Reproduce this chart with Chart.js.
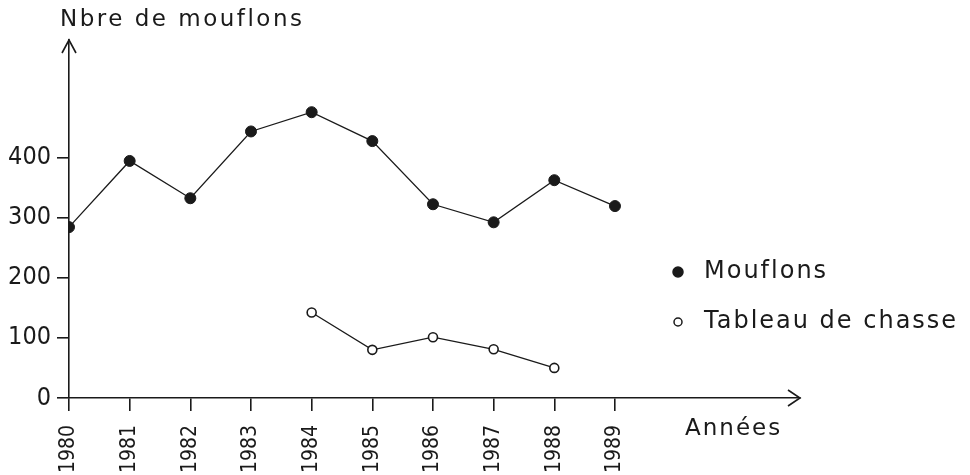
<!DOCTYPE html>
<html>
<head>
<meta charset="utf-8">
<script src="https://cdn.jsdelivr.net/npm/chart.js@4.4.1/dist/chart.umd.min.js"></script>
<style>
  html, body { margin: 0; padding: 0; background: #fff; }
  #wrap { width: 970px; height: 475px; position: relative; }
</style>
</head>
<body>
<div id="wrap"><canvas id="chart"></canvas></div>
<script>
// Values
const years = [1980, 1981, 1982, 1983, 1984, 1985, 1986, 1987, 1988, 1989];
const mouflons = [284, 394, 332, 443, 475, 427, 322, 292, 362, 319];
const tableauChasse = [null, null, null, null, 142, 80, 101, 81, 50, null];
const yTicks = [0, 100, 200, 300, 400];

const yTitle = 'Nbre de mouflons';
const xTitle = 'Années';

const ink = '#1a1a1a';
const narrow = '"Liberation Sans Narrow", "DejaVu Sans Condensed", sans-serif';
const wide = '"DejaVu Sans", sans-serif';

function toPoints(values) {
    return years.map((y, i) => ({ x: y, y: values[i] })).filter(p => p.y !== null);
}

// arrows, axis captions, legend
const decorations = {
    id: 'decorations',
    afterDraw(chart) {
        const ctx = chart.ctx;
        const x = chart.scales.x;
        const y = chart.scales.y;
        ctx.save();
        ctx.strokeStyle = ink;
        ctx.lineWidth = 1.6;
        // arrow heads
        ctx.beginPath();
        ctx.moveTo(x.right - 12, y.bottom - 8);
        ctx.lineTo(x.right, y.bottom);
        ctx.lineTo(x.right - 12, y.bottom + 8);
        ctx.moveTo(x.left - 7, y.top + 13);
        ctx.lineTo(x.left, y.top);
        ctx.lineTo(x.left + 7, y.top + 13);
        ctx.stroke();

        ctx.fillStyle = ink;
        ctx.textBaseline = 'middle';
        ctx.textAlign = 'left';
        ctx.letterSpacing = '2.5px';
        ctx.font = '23px ' + wide;
        ctx.fillText(yTitle, 60, 20);
        ctx.letterSpacing = '2px';
        ctx.font = '23px ' + wide;
        ctx.fillText(xTitle, 685, 429);

        // legend
        const ds = chart.data.datasets;
        const rows = [272, 322];
        const radii = [5, 4];
        ds.forEach((d, i) => {
            ctx.beginPath();
            ctx.arc(678, rows[i], radii[i], 0, Math.PI * 2);
            ctx.fillStyle = d.pointBackgroundColor;
            ctx.fill();
            ctx.lineWidth = 1.5;
            ctx.strokeStyle = ink;
            ctx.stroke();
            ctx.fillStyle = ink;
            ctx.font = '24px ' + wide;
            ctx.fillText(d.label, 704, rows[i]);
        });
        ctx.restore();
    }
};

new Chart(document.getElementById('chart'), {
    type: 'line',
    data: {
        datasets: [
            {
                label: 'Mouflons',
                data: toPoints(mouflons),
                borderColor: ink,
                borderWidth: 1.3,
                pointBackgroundColor: ink,
                pointBorderColor: ink,
                pointRadius: 5.5,
                pointBorderWidth: 1,
            },
            {
                label: 'Tableau de chasse',
                data: toPoints(tableauChasse),
                borderColor: ink,
                borderWidth: 1.3,
                pointBackgroundColor: '#ffffff',
                pointBorderColor: ink,
                pointRadius: 4.5,
                pointBorderWidth: 1.6,
            },
        ],
    },
    options: {
        responsive: true,
        maintainAspectRatio: false,
        animation: false,
        layout: { padding: { left: 0, top: 40, right: 170, bottom: 0 } },
        plugins: {
            legend: { display: false },
            tooltip: { enabled: false },
        },
        scales: {
            x: {
                type: 'linear',
                min: 1980,
                max: 1992.05,
                afterBuildTicks: (scale) => { scale.ticks = years.map(v => ({ value: v })); },
                afterFit: (scale) => { scale.height = 77; },
                border: { display: true, color: ink, width: 1.6 },
                grid: { drawOnChartArea: false, drawTicks: true, tickLength: 13, color: ink, lineWidth: 1.6 },
                ticks: {
                    color: ink,
                    font: { family: narrow, size: 21 },
                    maxRotation: 90,
                    minRotation: 90,
                    padding: 14,
                    callback: (v) => String(v),
                },
            },
            y: {
                min: 0,
                max: 595,
                afterBuildTicks: (scale) => { scale.ticks = yTicks.map(v => ({ value: v })); },
                afterFit: (scale) => { scale.width = 69; },
                border: { display: true, color: ink, width: 1.6 },
                grid: { drawOnChartArea: false, drawTicks: true, tickLength: 12, color: ink, lineWidth: 1.6 },
                ticks: {
                    color: ink,
                    font: { family: narrow, size: 25 },
                    padding: 6,
                },
            },
        },
    },
    plugins: [decorations],
});
</script>
</body>
</html>
